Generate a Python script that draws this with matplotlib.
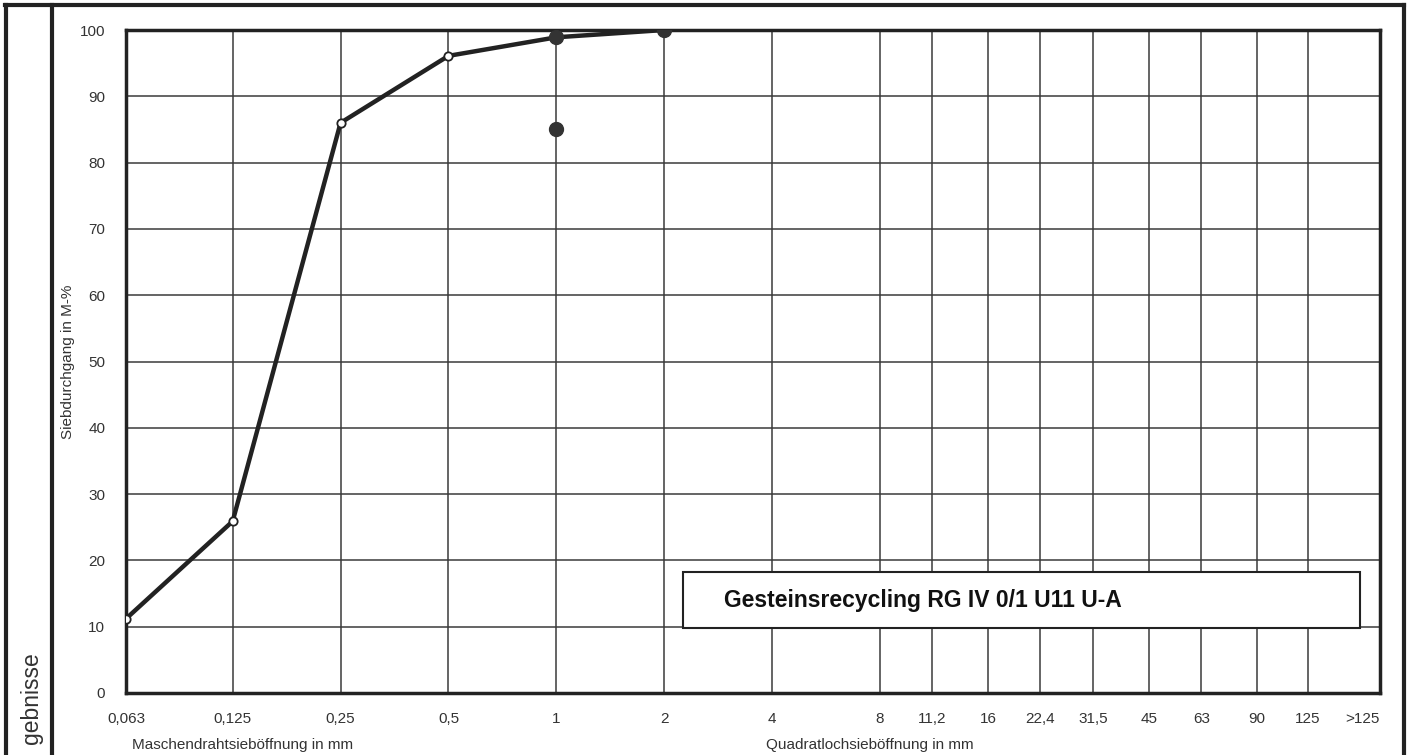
import matplotlib.pyplot as plt
from matplotlib.patches import Rectangle
from matplotlib.lines import Line2D
import numpy as np

plt.rcParams['font.family'] = ['Liberation Sans', 'DejaVu Sans']

# Siebweiten (mm) und Tick-Beschriftungen
sieves = [0.063, 0.125, 0.25, 0.5, 1, 2, 4, 8, 11.2, 16, 22.4, 31.5, 45, 63, 90, 125]
sieve_labels = ["0,063", "0,125", "0,25", "0,5", "1", "2", "4", "8", "11,2", "16",
                "22,4", "31,5", "45", "63", "90", "125"]
yticks = [0, 10, 20, 30, 40, 50, 60, 70, 80, 90, 100]

# Sieblinie (Siebdurchgang in M-%)
curve_x = [0.063, 0.125, 0.25, 0.5, 1, 2]
curve_y = [11.2, 25.9, 86.0, 96.1, 98.9, 100.0]

# Anforderungswerte (gefuellte Punkte)
req_x = [1, 1, 2]
req_y = [85, 99, 100]

title = "Gesteinsrecycling RG IV 0/1 U11 U-A"

fig = plt.figure(figsize=(14.1, 7.55), dpi=100)
ax = fig.add_axes([126/1410, 1-693/755, (1380-126)/1410, (693-30)/755])

ax.set_xscale('log', base=2)
ax.set_xlim(0.063, 198.5)
ax.set_ylim(0, 100)

ax.set_xticks(sieves)
ax.set_xticklabels(sieve_labels)
ax.set_xticks([177], minor=True)
ax.set_xticklabels([">125"], minor=True)
ax.set_yticks(yticks)
ax.tick_params(axis='both', which='both', length=0, labelsize=11, labelcolor='#333333')
ax.tick_params(axis='x', which='both', pad=14)
ax.tick_params(axis='y', pad=15)

ax.grid(True, which='major', color='#3a3a3a', linewidth=1.1)
ax.set_axisbelow(True)
for s in ax.spines.values():
    s.set_linewidth(2.5)
    s.set_color('#222222')

# Sieblinie
ax.plot(curve_x, curve_y, '-', color='#222222', linewidth=3.2, zorder=3)
ax.plot(curve_x[:4], curve_y[:4], 'o', markersize=6, markerfacecolor='white',
        markeredgecolor='#222222', markeredgewidth=1.3, zorder=4)
ax.plot(req_x, req_y, 'o', markersize=10, color='#333333', zorder=5)

# Bezeichnungsbox
ax.add_patch(Rectangle((0.444, 0.098), 0.54, 0.0845, transform=ax.transAxes,
                       facecolor='white', edgecolor='#222222', linewidth=1.5, zorder=6))
ax.text(0.6356, 0.14, title, transform=ax.transAxes, ha='center', va='center',
        fontsize=16.5, fontweight='bold', color='#111111', zorder=7)

ax.set_ylabel("Siebdurchgang in M-%", fontsize=11, color='#333333', labelpad=3)
fig.text(243/1410, 1-745/755, "Maschendrahtsieböffnung in mm", ha='center', va='center',
         fontsize=11, color='#333333')
fig.text(870/1410, 1-745/755, "Quadratlochsieböffnung in mm", ha='center', va='center',
         fontsize=11, color='#333333')

# Seitenrahmen
for xs, ys, lw in [([6/1410, 6/1410], [0, 1-5/755], 3),
                   ([52/1410, 52/1410], [0, 1-5/755], 3),
                   ([5/1410, 1404/1410], [1-5/755, 1-5/755], 3),
                   ([1404/1410, 1404/1410], [0, 1-5/755], 3)]:
    fig.add_artist(Line2D(xs, ys, transform=fig.transFigure, color='#222222', linewidth=lw))

fig.text(31/1410, 1-652/755, "gebnisse", rotation=90, ha='center', va='top',
         fontsize=16.5, color='#333333')

fig.savefig("out.png", dpi=100)
